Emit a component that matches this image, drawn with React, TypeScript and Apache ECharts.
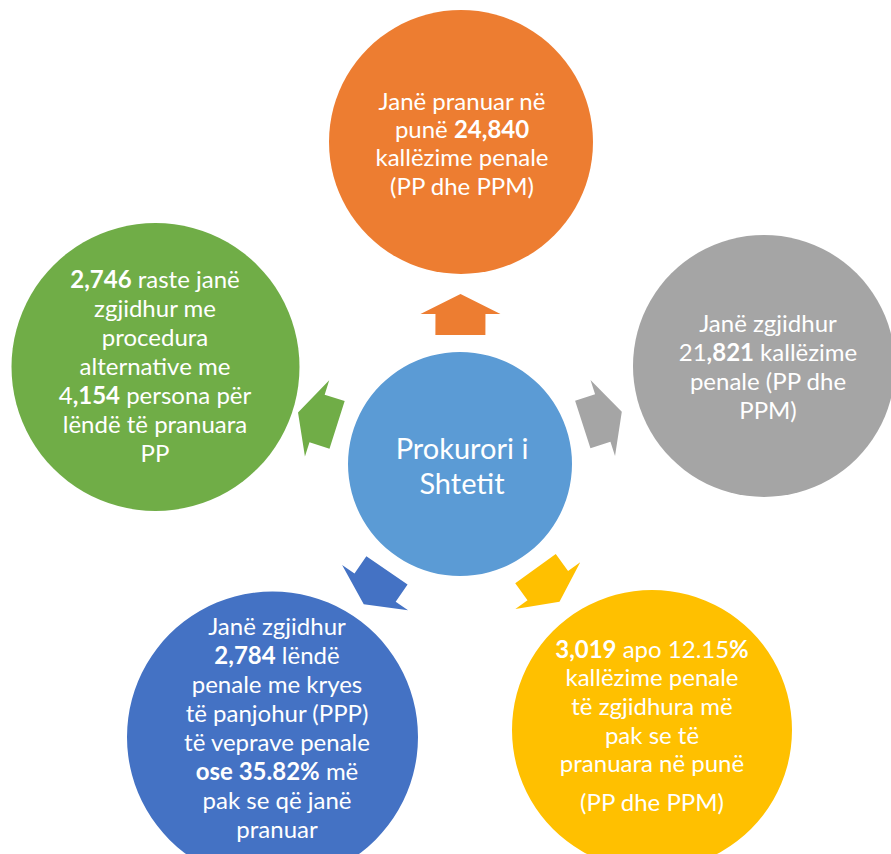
import React, { useEffect, useRef } from "react";
import * as echarts from "echarts";

// ---- content ----
const centerLabel = ["Prokurori i", "Shtetit"];
const nodeNames = ["orange", "gray", "yellow", "blue", "green"];
const nodeColors = ["#ED7D31", "#A5A5A5", "#FFC000", "#4472C4", "#70AD47"];
const centerColor = "#5B9BD5";
const orangeLines = ["Janë pranuar në", "punë {b|24,840}", "kallëzime penale", "(PP dhe PPM)"];
const grayLines = ["Janë zgjidhur", "21{b|,821} kallëzime", "penale (PP dhe", "PPM)"];
const yellowLines = ["{b|3,019} apo 12.15{b|%}", "kallëzime penale", "të zgjidhura më", "pak se të", "pranuara në punë", "(PP dhe PPM)"];
const blueLines = ["Janë zgjidhur", "{b|2,784} lëndë", "penale me kryes", "të panjohur (PPP)", "të veprave penale", "{b|ose 35.82%} më", "pak se që janë", "pranuar"];
const greenLines = ["{b|2,746} raste janë", "zgjidhur me", "procedura", "alternative me", "4{b|,154} persona për", "lëndë të pranuara", "PP"];
const nodeLines = [orangeLines, grayLines, yellowLines, blueLines, greenLines];

// ---- layout (positions / sizes) ----
const CENTER = { x: 460, y: 464, r: 112 };
const nodeCx = [461, 764, 652, 272.5, 155.5];
const nodeCy = [142, 366, 730, 737, 367];
const nodeR = [132, 131, 140, 145.5, 144];
const textX = [462, 768, 652, 277, 155];
const firstLineY = [100, 322, 648, 625, 278];
const lineStep = [28.4, 29.3, 28.7, 29, 29];
const extraGapBeforeLast = [0, 0, 10, 0, 0];

const FONT = "Lato, 'Open Sans', sans-serif";
const FS = 24;

function arrowPoints(angle: number) {
  const ux = Math.cos(angle), uy = Math.sin(angle);
  const vx = -uy, vy = ux;
  const local: [number, number][] = [
    [129, -25], [150, -25], [150, -40], [170, 0], [150, 40], [150, 25], [129, 25],
  ];
  return local.map(([s, t]) => [CENTER.x + ux * s + vx * t, CENTER.y + uy * s + vy * t]);
}

export default function App() {
  const ref = useRef<HTMLDivElement>(null);
  useEffect(() => {
    document.body.style.margin = "0";
    const chart = echarts.init(ref.current!, null, { renderer: "svg" });
    const elements: any[] = [];
    nodeNames.forEach((name, i) => {
      const ang = Math.atan2(nodeCy[i] - CENTER.y, nodeCx[i] - CENTER.x);
      elements.push({
        type: "polygon",
        shape: { points: arrowPoints(ang) },
        style: { fill: nodeColors[i] },
      });
      elements.push({
        type: "circle",
        shape: { cx: nodeCx[i], cy: nodeCy[i], r: nodeR[i] },
        style: { fill: nodeColors[i] },
      });
      const lines = nodeLines[i];
      lines.forEach((ln, j) => {
        let y = firstLineY[i] + j * lineStep[i];
        if (j === lines.length - 1) y += extraGapBeforeLast[i];
        elements.push({
          type: "text",
          x: textX[i],
          y,
          style: {
            text: ln,
            fill: "#ffffff",
            fontSize: FS,
            fontFamily: FONT,
            align: "center",
            verticalAlign: "middle",
            rich: {
              b: { fontWeight: "bold", fill: "#ffffff", fontSize: FS, fontFamily: FONT },
            },
          },
        });
      });
    });
    elements.push({
      type: "circle",
      shape: { cx: CENTER.x, cy: CENTER.y, r: CENTER.r },
      style: { fill: centerColor },
    });
    centerLabel.forEach((ln, j) => {
      elements.push({
        type: "text",
        x: 462,
        y: 447 + j * 35,
        style: {
          text: ln,
          fill: "#ffffff",
          fontSize: 29,
          fontFamily: FONT,
          align: "center",
          verticalAlign: "middle",
        },
      });
    });
    chart.setOption({ animation: false, backgroundColor: "#ffffff", graphic: { elements } });
    return () => chart.dispose();
  }, []);
  return <div ref={ref} style={{ width: 891, height: 854 }} />;
}
